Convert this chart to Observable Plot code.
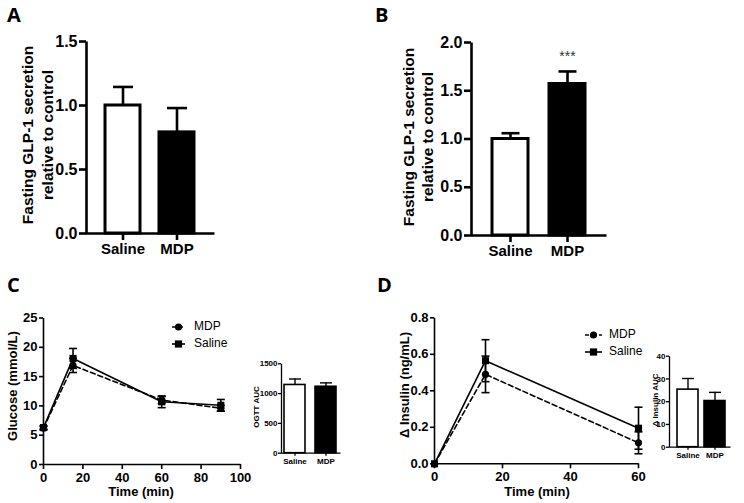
<!DOCTYPE html>
<html><head><meta charset="utf-8">
<script src="https://cdn.jsdelivr.net/npm/d3@7"></script>
<script src="https://cdn.jsdelivr.net/npm/@observablehq/plot@0.6"></script>
<style>
body{margin:0;background:#fff;}
#fig{position:relative;width:744px;height:503px;overflow:hidden;background:#fff;font-family:"Liberation Sans",Arial,sans-serif;color:#000;}
.panel{position:absolute;}
.panel svg{overflow:visible;display:block;}
.letter{position:absolute;font-weight:bold;font-size:20px;line-height:20px;font-family:"Open Sans","Liberation Sans",sans-serif;}
.txt{position:absolute;white-space:pre;text-align:center;font-weight:bold;}
.legend{position:absolute;font-size:12px;line-height:17px;}
.legend .row{display:flex;align-items:center;height:17px;}
.legend svg{display:block;}
</style>
</head><body><div id="fig"></div>
<script>
// ---------- data ----------
const groups = ["Saline", "MDP"];
const glpA = [1.00, 0.79];
const glpASem = [0.145, 0.19];
const glpB = [1.00, 1.57];
const glpBSem = [0.06, 0.13];
const aucOgtt = [1145, 1115];
const aucOgttSem = [100, 65];
const aucIns = [25.3, 20.3];
const aucInsSem = [4.9, 3.8];

const timeGlc = [0, 15, 60, 90];
const glcSaline = [6.3, 18.1, 10.7, 10.1];
const glcSalineSem = [0.3, 1.7, 1.0, 1.0];
const glcMdp = [6.2, 16.9, 11.0, 9.6];
const glcMdpSem = [0.3, 1.2, 0.6, 0.5];

const timeIns = [0, 15, 60];
const insSaline = [0, 0.565, 0.195];
const insSalineSem = [0, 0.115, 0.115];
const insMdp = [0, 0.49, 0.115];
const insMdpSem = [0, 0.10, 0.06];

const ticksA = [0, 0.5, 1.0, 1.5];
const ticksB = [0, 0.5, 1.0, 1.5, 2.0];
const ticksGlcY = [0, 5, 10, 15, 20, 25];
const ticksGlcX = [0, 20, 40, 60, 80, 100];
const ticksInsY = [0, 0.2, 0.4, 0.6, 0.8];
const ticksInsX = [0, 20, 40, 60];
const ticksOgttAuc = [0, 500, 1000, 1500];
const ticksInsAuc = [0, 10, 20, 30, 40];

// ---------- helpers ----------
const FONT = "Liberation Sans, Arial, sans-serif";
const fig = document.getElementById("fig");
const capSym = {draw(ctx, size) { const w = Math.sqrt(size / Math.PI); ctx.moveTo(-w, 0); ctx.lineTo(w, 0); }};

function place(el, left, top) {
  const d = document.createElement("div");
  d.className = "panel"; d.style.left = left + "px"; d.style.top = top + "px";
  d.appendChild(el); fig.appendChild(d);
}
function html(cls, text, x, y, css) {
  const d = document.createElement("div");
  d.className = cls; d.textContent = text;
  d.style.left = x + "px"; d.style.top = y + "px";
  Object.assign(d.style, css || {});
  fig.appendChild(d); return d;
}
function vtitle(text, cx, cy, fs, lh, weight) {
  html("txt", text, cx, cy, {fontSize: fs + "px", lineHeight: lh + "px", fontWeight: weight || "bold",
    transform: "translate(-50%,-50%) rotate(-90deg)"});
}
function htitle(text, cx, cy, fs) {
  html("txt", text, cx, cy, {fontSize: fs + "px", lineHeight: fs + "px", transform: "translate(-50%,-50%)"});
}
// frame drawn only along its bottom and left sides (axis lines)
function axisLines(o, sw) {
  const w = o.width - o.ml - o.mr, h = o.height - o.mt - o.mb;
  return Plot.frame({stroke: "black", strokeWidth: sw, strokeDasharray: `0 ${w + h} ${w + h}`});
}

function barPanel(o) {
  const data = groups.map((g, i) => ({g, v: o.vals[i], e: o.sems[i]}));
  return Plot.plot({
    width: o.width, height: o.height,
    marginLeft: o.ml, marginRight: o.mr, marginTop: o.mt, marginBottom: o.mb,
    style: {background: "none", overflow: "visible", fontFamily: FONT, fontWeight: "bold", fontSize: o.fsY + "px", color: "black"},
    x: {domain: groups, paddingInner: o.pi, paddingOuter: o.po, align: o.align ?? 0.5},
    y: {domain: o.yDomain},
    color: {domain: groups, range: ["white", "black"]},
    marks: [
      Plot.ruleX(data, {x: "g", y1: "v", y2: d => d.v + d.e, stroke: "black", strokeWidth: o.sw}),
      Plot.dot(data, {x: "g", y: d => d.v + d.e, symbol: capSym, r: o.capR, stroke: "black", strokeWidth: o.sw}),
      Plot.barY(data, {x: "g", y: "v", fill: "g", stroke: "black", strokeWidth: o.barSw}),
      axisLines(o, o.axSw),
      Plot.axisY({ticks: o.yTicks, tickFormat: o.fmt, tickSize: o.ts, tickPadding: o.tp,
        strokeWidth: o.axSw, fontSize: o.fsY, fontWeight: "bold", label: null}),
      Plot.axisX({tickSize: o.ts, tickPadding: o.tpx, strokeWidth: o.axSw,
        fontSize: o.fsX, fontWeight: "bold", label: null}),
      ...(o.extra ? o.extra(data) : [])
    ]
  });
}

function linePanel(o) {
  const rows = (name, vals, sems) => o.time.map((t, i) => ({s: name, t, v: vals[i], e: sems[i]}));
  const sal = rows("Saline", o.sal, o.salSem), mdp = rows("MDP", o.mdp, o.mdpSem);
  const errs = [...sal, ...mdp].filter(d => d.e > 0);
  const sw = 1.6;
  return Plot.plot({
    width: o.width, height: o.height,
    marginLeft: o.ml, marginRight: o.mr, marginTop: o.mt, marginBottom: o.mb,
    style: {background: "none", overflow: "visible", fontFamily: FONT, fontWeight: "bold", fontSize: "13px", color: "black"},
    x: {domain: o.xDomain},
    y: {domain: o.yDomain},
    marks: [
      axisLines(o, 1.6),
      Plot.ruleX(errs, {x: "t", y1: d => d.v - d.e, y2: d => d.v + d.e, stroke: "black", strokeWidth: sw}),
      Plot.dot(errs, {x: "t", y: d => d.v + d.e, symbol: capSym, r: 4, stroke: "black", strokeWidth: sw}),
      Plot.dot(errs, {x: "t", y: d => d.v - d.e, symbol: capSym, r: 4, stroke: "black", strokeWidth: sw}),
      Plot.line(sal, {x: "t", y: "v", stroke: "black", strokeWidth: sw}),
      Plot.line(mdp, {x: "t", y: "v", stroke: "black", strokeWidth: sw, strokeDasharray: "5,3"}),
      Plot.dot(sal, {x: "t", y: "v", symbol: "square", r: 4, fill: "black"}),
      Plot.dot(mdp, {x: "t", y: "v", symbol: "circle", r: 3.6, fill: "black"}),
      Plot.axisY({ticks: o.yTicks, tickFormat: o.yFmt, tickSize: 4, tickPadding: 2,
        strokeWidth: 1.6, fontSize: 13, fontWeight: "bold", label: null}),
      Plot.axisX({ticks: o.xTicks, tickSize: 5, tickPadding: 3,
        strokeWidth: 1.6, fontSize: 13, fontWeight: "bold", label: null})
    ]
  });
}

function legend(left, top, lineW, textGap) {
  const box = document.createElement("div");
  box.className = "legend"; box.style.left = left + "px"; box.style.top = top + "px";
  const items = [{label: "MDP", dash: "4,3", sym: "circle"}, {label: "Saline", dash: null, sym: "square"}];
  for (const it of items) {
    const row = document.createElement("div"); row.className = "row";
    const ns = "http://www.w3.org/2000/svg";
    const s = document.createElementNS(ns, "svg");
    s.setAttribute("width", lineW); s.setAttribute("height", 10);
    const ln = document.createElementNS(ns, "line");
    ln.setAttribute("x1", 0); ln.setAttribute("x2", lineW); ln.setAttribute("y1", 5); ln.setAttribute("y2", 5);
    ln.setAttribute("stroke", "black"); ln.setAttribute("stroke-width", 1.6);
    if (it.dash) ln.setAttribute("stroke-dasharray", it.dash);
    s.appendChild(ln);
    let m;
    if (it.sym === "circle") { m = document.createElementNS(ns, "circle"); m.setAttribute("cx", lineW / 2); m.setAttribute("cy", 5); m.setAttribute("r", 3.6); }
    else { m = document.createElementNS(ns, "rect"); m.setAttribute("x", lineW / 2 - 3.6); m.setAttribute("y", 1.4); m.setAttribute("width", 7.2); m.setAttribute("height", 7.2); }
    m.setAttribute("fill", "black"); s.appendChild(m);
    row.appendChild(s);
    const t = document.createElement("span"); t.textContent = it.label; t.style.marginLeft = textGap + "px";
    row.appendChild(t);
    box.appendChild(row);
  }
  fig.appendChild(box);
}

// ---------- Panel A ----------
place(barPanel({vals: glpA, sems: glpASem, width: 230, height: 262, ml: 86, mr: 16, mt: 41, mb: 29,
  pi: 0.35, po: 0.34, yDomain: [0, 1.5], yTicks: ticksA, fmt: d3.format(".1f"),
  ts: 7, tp: 2, tpx: 3, sw: 2.6, axSw: 2.6, barSw: 3, capR: 10, fsY: 16, fsX: 15}), 0, 0);
vtitle("Fasting GLP-1 secretion\nrelative to control", 38, 135, 15.5, 20);
html("letter", "A", 7, 5);

// ---------- Panel B ----------
place(barPanel({vals: glpB, sems: glpBSem, width: 250, height: 262, ml: 99, mr: 16, mt: 42, mb: 27,
  pi: 0.36, po: 0.35, yDomain: [0, 2], yTicks: ticksB, fmt: d3.format(".1f"),
  ts: 7, tp: 2, tpx: 3, sw: 2.6, axSw: 2.6, barSw: 3, capR: 9, fsY: 16, fsX: 15,
  extra: data => [Plot.text(data.filter(d => d.g === "MDP"), {x: "g", y: d => d.v + d.e, text: () => "***",
    dy: -15, fontSize: 14, fontWeight: "normal", fill: "#333"})]}), 372, 0);
vtitle("Fasting GLP-1 secretion\nrelative to control", 417.5, 137, 15.5, 19);
html("letter", "B", 375, 5);

// ---------- Panel C ----------
place(linePanel({time: timeGlc, sal: glcSaline, salSem: glcSalineSem, mdp: glcMdp, mdpSem: glcMdpSem,
  width: 250, height: 213, ml: 43, mr: 10, mt: 27.5, mb: 39,
  xDomain: [0, 100], yDomain: [0, 25], xTicks: ticksGlcX, yTicks: ticksGlcY, yFmt: d3.format("d")}), 0, 290);
vtitle("Glucose (mmol/L)", 12, 386, 13, 13);
htitle("Time (min)", 141, 491, 13);
legend(172, 318, 13, 9);
html("letter", "C", 7, 275);

place(barPanel({vals: aucOgtt, sems: aucOgttSem, width: 100, height: 130, ml: 36, mr: 5, mt: 23.3, mb: 17.3,
  pi: 0.31, po: 0.08, yDomain: [0, 1500], yTicks: ticksOgttAuc, fmt: d3.format("d"),
  ts: 3, tp: 1, tpx: 2, sw: 1.4, axSw: 1.3, barSw: 1.6, capR: 6, fsY: 8, fsX: 8}), 245, 340);
vtitle("OGTT AUC", 257, 407, 8, 8);

// ---------- Panel D ----------
place(linePanel({time: timeIns, sal: insSaline, salSem: insSalineSem, mdp: insMdp, mdpSem: insMdpSem,
  width: 275, height: 213, ml: 62, mr: 9, mt: 27.3, mb: 39.7,
  xDomain: [0, 60], yDomain: [0, 0.8], xTicks: ticksInsX, yTicks: ticksInsY, yFmt: d3.format(".1f")}), 372, 290);
vtitle("Δ Insulin (ng/mL)", 404, 385, 13, 13);
htitle("Time (min)", 537, 491, 13);
legend(585, 326, 17, 7);
html("letter", "D", 377, 275);

place(barPanel({vals: aucIns, sems: aucInsSem, width: 109, height: 130, ml: 34, mr: 14, mt: 20.7, mb: 18.3,
  pi: 0.24, po: 0.23, align: 0.6, yDomain: [0, 40], yTicks: ticksInsAuc, fmt: d3.format("d"),
  ts: 3, tp: 1, tpx: 2, sw: 1.4, axSw: 1.3, barSw: 1.6, capR: 6, fsY: 8, fsX: 8}), 635, 335);
vtitle("Δ Insulin AUC", 656, 400, 8, 8);
</script>
</body></html>
